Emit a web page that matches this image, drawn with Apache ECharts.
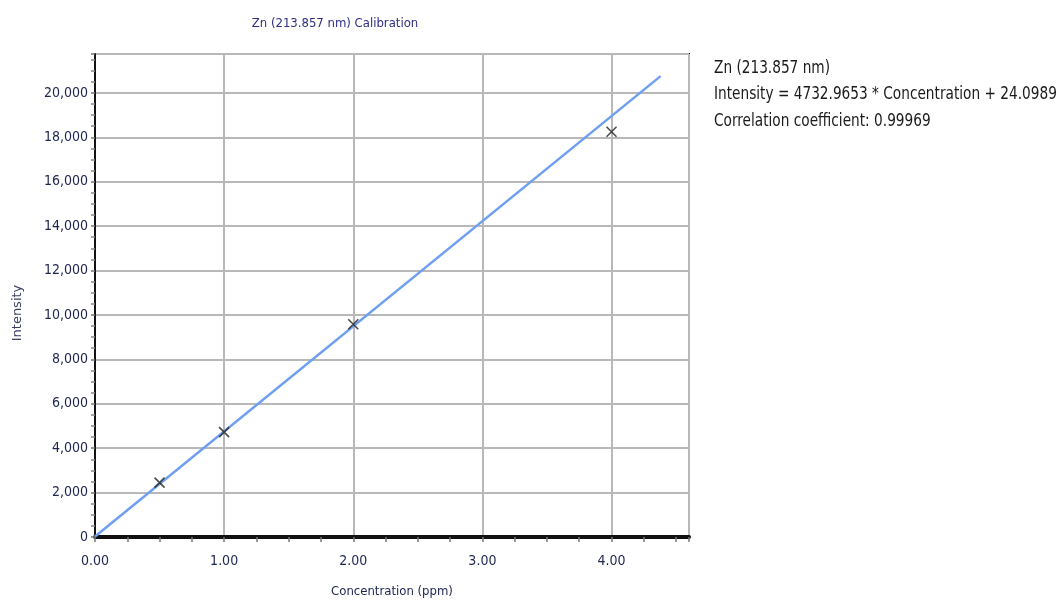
<!DOCTYPE html>
<html>
<head>
<meta charset="utf-8">
<script src="https://cdn.jsdelivr.net/npm/echarts@6/dist/echarts.min.js"></script>
<style>
  html, body { margin: 0; padding: 0; background: #fff; }
  #chart { width: 1062px; height: 606px; }
</style>
</head>
<body>
<div id="chart"></div>
<script>
// Calibration standards for Zn (213.857 nm)
const concentrations = [0.5, 1.0, 2.0, 4.0];
const intensities = [2450, 4720, 9580, 18250];

// Linear fit reported by the instrument
const slope = 4732.9653;
const intercept = 24.0989;
const correlation = '0.99969';
const fitRange = [0, 4.38];

const xTickLabels = ['0.00', '1.00', '2.00', '3.00', '4.00'];

const NARROW = '"DejaVu Sans Condensed", "Liberation Sans Narrow", sans-serif';
const LABEL_COLOR = '#1c2450';

const points = concentrations.map((c, i) => [c, intensities[i]]);
const fitLine = fitRange.map(c => [c, slope * c + intercept]);

const chart = echarts.init(document.getElementById('chart'));
chart.setOption({
  animation: false,
  backgroundColor: '#ffffff',
  title: {
    text: 'Zn (213.857 nm) Calibration',
    left: 330,
    textAlign: 'center',
    top: 12,
    textStyle: { fontFamily: NARROW, fontSize: 13, fontWeight: 'normal', color: '#2e2f86' }
  },
  graphic: [
    {
      // equation block beside the plot
      type: 'text',
      x: 714,
      y: 55,
      scaleX: 0.895,
      style: {
        text: 'Zn (213.857 nm)\nIntensity = ' + slope.toFixed(4) + ' * Concentration + ' + intercept.toFixed(4) +
              '\nCorrelation coefficient: ' + correlation,
        font: '17px ' + NARROW,
        lineHeight: 26.5,
        fill: '#1a1a1a'
      }
    },
    {
      // vertical axis title
      type: 'text',
      x: 18,
      y: 313,
      rotation: Math.PI / 2,
      style: {
        text: 'Intensity',
        font: '13px "DejaVu Sans", Verdana, sans-serif',
        fill: '#3a4060',
        align: 'center',
        verticalAlign: 'middle'
      }
    }
  ],
  grid: {
    left: 95, top: 54, right: 373, bottom: 69,
    show: true,
    borderColor: '#111111',
    borderWidth: 2,
    containLabel: false
  },
  xAxis: {
    type: 'value',
    min: 0,
    max: 4.6,
    interval: 1,
    name: 'Concentration (ppm)',
    nameLocation: 'middle',
    nameGap: 48,
    nameTextStyle: { fontFamily: NARROW, fontSize: 13, color: LABEL_COLOR },
    axisLine: { show: true, lineStyle: { color: '#111111', width: 4 } },
    axisTick: { show: true, length: 5, lineStyle: { color: '#777777', width: 1.5 } },
    minorTick: { show: true, splitNumber: 4, length: 5, lineStyle: { color: '#777777', width: 1.5 } },
    axisLabel: {
      showMaxLabel: false,
      margin: 17,
      fontFamily: NARROW, fontSize: 14, color: LABEL_COLOR,
      formatter: v => xTickLabels[Math.round(v)] || v.toFixed(2)
    },
    splitLine: { show: true, lineStyle: { color: '#b8b8b8', width: 2 } }
  },
  yAxis: {
    type: 'value',
    min: 0,
    max: 21750,
    interval: 2000,
    axisLine: { show: true, lineStyle: { color: '#111111', width: 2 } },
    axisTick: { show: true, length: 4, lineStyle: { color: '#777777', width: 1.5 } },
    minorTick: { show: true, splitNumber: 4, length: 4, lineStyle: { color: '#888888', width: 1.5 } },
    axisLabel: {
      showMaxLabel: false,
      margin: 7,
      fontFamily: NARROW, fontSize: 14, color: LABEL_COLOR,
      formatter: v => v.toLocaleString('en-US')
    },
    splitLine: { show: true, lineStyle: { color: '#b8b8b8', width: 2 } }
  },
  series: [
    {
      name: 'Fit',
      type: 'line',
      data: fitLine,
      showSymbol: false,
      lineStyle: { color: '#6f9ff0', width: 2.5 },
      z: 3
    },
    {
      name: 'Standards',
      type: 'scatter',
      data: points,
      symbol: 'path://M0,0L10,10M10,0L0,10',
      symbolSize: 10,
      itemStyle: { color: 'rgba(0,0,0,0)', borderColor: '#222222', borderWidth: 1.6 },
      z: 4
    }
  ]
});
</script>
</body>
</html>
